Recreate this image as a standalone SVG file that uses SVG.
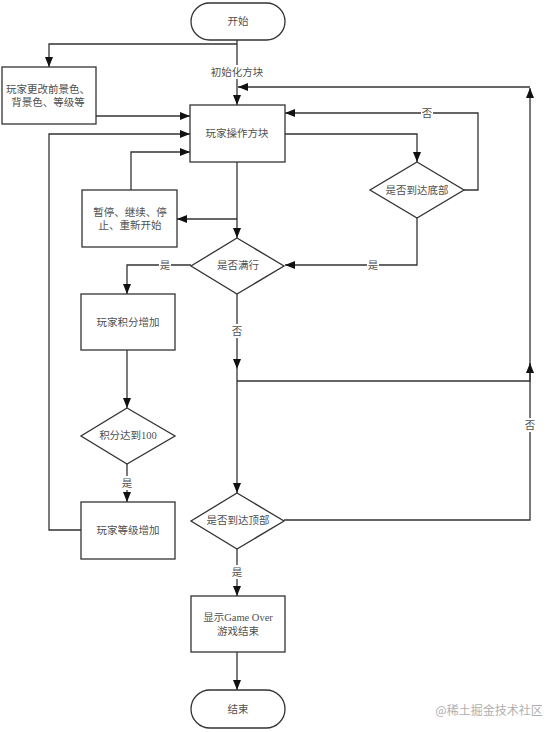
<svg xmlns="http://www.w3.org/2000/svg" width="560" height="732" viewBox="0 0 560 732">
<style>
.s{fill:#fff;stroke:#333;stroke-width:1.3}
.c{fill:none;stroke:#333;stroke-width:1.3}
text{font-family:"Liberation Serif","Noto Sans CJK SC",serif;font-size:10.5px;fill:#505050;text-anchor:middle;dominant-baseline:central}
.lb{fill:#fff}
.wm{fill:#b0b0b0;font-size:12px;font-family:"Noto Sans CJK SC",sans-serif}
</style>
<defs>
<marker id="ah" markerUnits="userSpaceOnUse" markerWidth="10" markerHeight="10" viewBox="0 0 10 10" refX="10" refY="5" orient="auto">
<path d="M0,1 L10,5 L0,9 Z" fill="#111"/>
</marker>
</defs>
<rect width="560" height="732" fill="#fff"/>
<g id="connectors">
<path class="c" d="M237,40 V105" marker-end="url(#ah)"/>
<path class="c" d="M237,44 H49 V67" marker-end="url(#ah)"/>
<path class="c" d="M96,116 H190" marker-end="url(#ah)"/>
<path class="c" d="M81,530 H49 V134 H190" marker-end="url(#ah)"/>
<path class="c" d="M131,190 V152 H190" marker-end="url(#ah)"/>
<path class="c" d="M285,134 H417 V162" marker-end="url(#ah)"/>
<path class="c" d="M464,190 H478 V113 H285" marker-end="url(#ah)"/>
<path class="c" d="M417,218 V265 H285" marker-end="url(#ah)"/>
<path class="c" d="M237,162 V238" marker-end="url(#ah)"/>
<path class="c" d="M237,219 H177" marker-end="url(#ah)"/>
<path class="c" d="M191,265 H127 V294" marker-end="url(#ah)"/>
<path class="c" d="M237,294 V369" marker-end="url(#ah)"/>
<path class="c" d="M237,369 V493" marker-end="url(#ah)"/>
<path class="c" d="M237,381 H530 V88" marker-end="url(#ah)"/>
<path class="c" d="M284,520 H530 V363" marker-end="url(#ah)"/>
<path class="c" d="M530,87 H238" marker-end="url(#ah)"/>
<path class="c" d="M127,350 V408" marker-end="url(#ah)"/>
<path class="c" d="M127,464 V502" marker-end="url(#ah)"/>
<path class="c" d="M237,549 V596" marker-end="url(#ah)"/>
<path class="c" d="M237,652 V690" marker-end="url(#ah)"/>
<rect class="lb" x="209" y="65" width="56" height="14"/>
<text x="237" y="72">初始化方块</text>
<rect class="lb" x="421" y="106" width="12" height="14"/>
<text x="427" y="113">否</text>
<rect class="lb" x="367" y="258" width="12" height="14"/>
<text x="373" y="265">是</text>
<rect class="lb" x="159" y="258" width="12" height="14"/>
<text x="165" y="265">是</text>
<rect class="lb" x="231" y="324" width="12" height="14"/>
<text x="237" y="331">否</text>
<rect class="lb" x="524" y="418" width="12" height="14"/>
<text x="530" y="425">否</text>
<rect class="lb" x="121" y="476" width="12" height="14"/>
<text x="127" y="483">是</text>
<rect class="lb" x="231" y="565" width="12" height="14"/>
<text x="237" y="572">是</text>
</g>
<g id="start">
<rect class="s" x="191" y="3" width="94" height="37" rx="18.5"/>
<text x="238" y="21">开始</text>
</g>
<g id="change-colors">
<rect class="s" x="2" y="67" width="94" height="57"/>
<text x="48" y="89">玩家更改前景色、</text>
<text x="48" y="102">背景色、等级等</text>
</g>
<g id="operate">
<rect class="s" x="190" y="105" width="95" height="57"/>
<text x="237" y="133">玩家操作方块</text>
</g>
<g id="bottom-check">
<path class="s" d="M417,162 L464,190 L417,218 L370,190 Z"/>
<text x="417" y="190">是否到达底部</text>
</g>
<g id="pause">
<rect class="s" x="82" y="190" width="95" height="57"/>
<text x="130" y="212">暂停、继续、停</text>
<text x="130" y="225">止、重新开始</text>
</g>
<g id="line-full">
<path class="s" d="M237,238 L284,266 L237,294 L191,266 Z"/>
<text x="238" y="265">是否满行</text>
</g>
<g id="score-add">
<rect class="s" x="81" y="294" width="94" height="56"/>
<text x="128" y="322">玩家积分增加</text>
</g>
<g id="score-100">
<path class="s" d="M127,408 L175,436 L127,464 L81,436 Z"/>
<text x="128" y="435">积分达到100</text>
</g>
<g id="level-add">
<rect class="s" x="81" y="502" width="94" height="57"/>
<text x="128" y="530">玩家等级增加</text>
</g>
<g id="top-check">
<path class="s" d="M237,493 L284,521 L237,549 L191,521 Z"/>
<text x="238" y="520">是否到达顶部</text>
</g>
<g id="game-over">
<rect class="s" x="191" y="596" width="94" height="56"/>
<text x="238" y="617">显示Game Over</text>
<text x="238" y="631">游戏结束</text>
</g>
<g id="end">
<rect class="s" x="191" y="690" width="94" height="38" rx="19"/>
<text x="238" y="709">结束</text>
</g>
<text class="wm" x="489" y="709">@稀土掘金技术社区</text>
</svg>
